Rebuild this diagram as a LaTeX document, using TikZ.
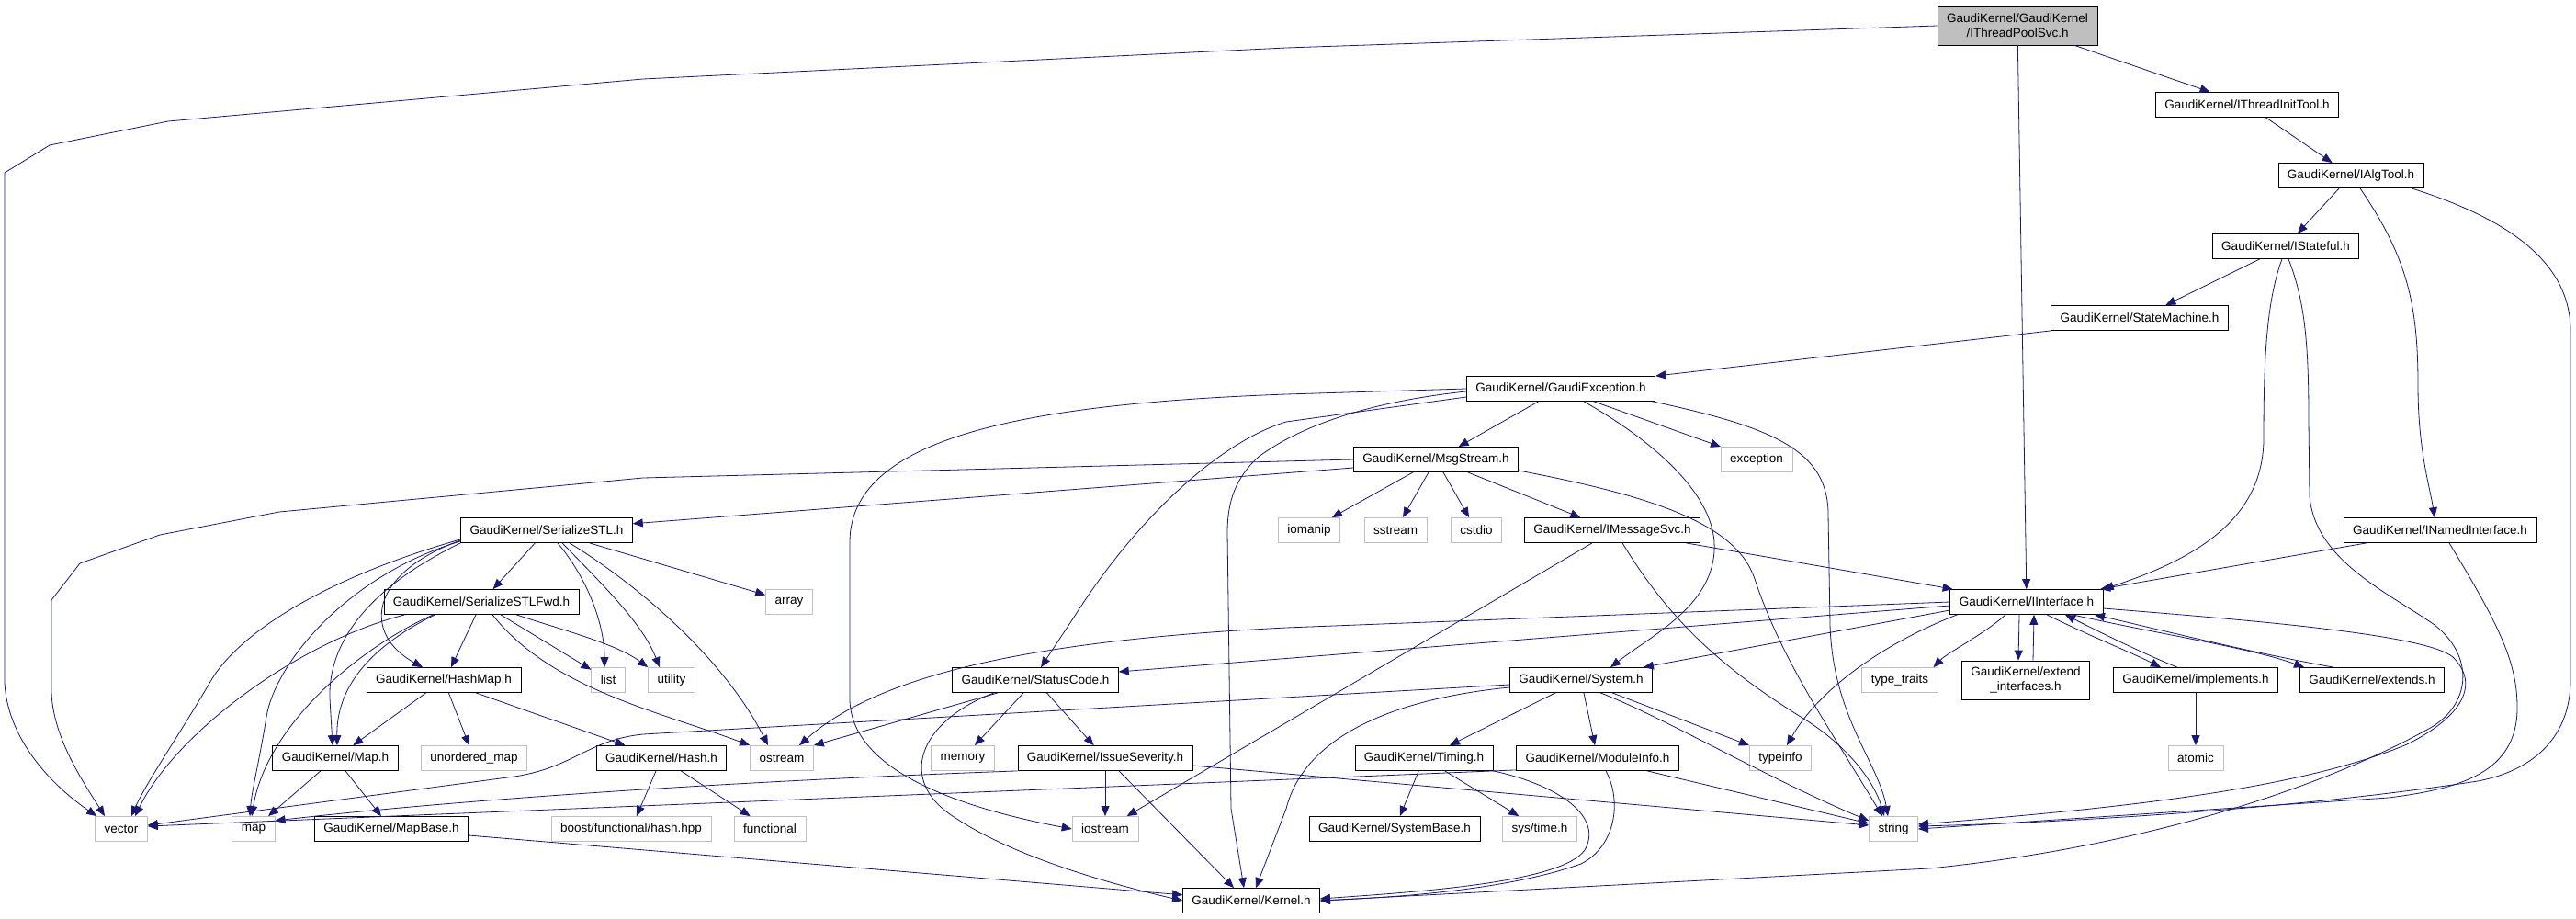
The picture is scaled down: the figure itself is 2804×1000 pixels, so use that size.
\documentclass[tikz,border=0pt]{standalone}
\usepackage{fontspec}
\setmainfont{Liberation Sans}
\usetikzlibrary{arrows.meta,calc}
\definecolor{edgeblue}{HTML}{191970}
\definecolor{boxgray}{HTML}{BFBFBF}
\tikzset{every picture/.style={line width=0.8pt}}
\tikzset{
  hdr/.style={draw=black, fill=white, font=\fontsize{13.5}{16}\selectfont, inner xsep=10pt, inner ysep=0pt, minimum height=27pt},
  syshdr/.style={hdr, draw=boxgray},
  curhdr/.style={hdr, fill=boxgray, align=center, minimum height=42pt},
  incl/.style={draw=edgeblue, line width=0.8pt, -{Triangle[length=11pt,width=9pt]}},
}
\begin{document}
\begin{tikzpicture}[x=1pt,y=1pt,yscale=-1,xscale=1]
\useasboundingbox (0,0) rectangle (2804,1000);
\fill[white] (0,0) rectangle (2804,1000);

% Text Node
\node[curhdr] (tps) at (2196,28) {GaudiKernel/GaudiKernel\\/IThreadPoolSvc.h};
\node[hdr] (tit) at (2446,114) {GaudiKernel/IThreadInitTool.h};
\node[hdr] (iat) at (2559,191) {GaudiKernel/IAlgTool.h};
\node[hdr] (ist) at (2488,268) {GaudiKernel/IStateful.h};
\node[hdr] (stm) at (2329,346) {GaudiKernel/StateMachine.h};
\node[hdr] (gex) at (1699,423) {GaudiKernel/GaudiException.h};
\node[hdr] (msg) at (1563,500) {GaudiKernel/MsgStream.h};
\node[syshdr] (exc) at (1912,500) {exception};
\node[syshdr] (ioma) at (1425,577) {iomanip};
\node[syshdr] (sst) at (1519,577) {sstream};
\node[syshdr] (cst) at (1607,577) {cstdio};
\node[hdr] (ims) at (1755,577) {GaudiKernel/IMessageSvc.h};
\node[hdr] (inm) at (2656,577) {GaudiKernel/INamedInterface.h};
\node[hdr] (ser) at (595,577) {GaudiKernel/SerializeSTL.h};
\node[syshdr] (arr) at (859,655) {array};
\node[hdr] (sfw) at (524,655) {GaudiKernel/SerializeSTLFwd.h};
\node[hdr] (iif) at (2206,655) {GaudiKernel/IInterface.h};
\node[hdr] (hmp) at (483,740) {GaudiKernel/HashMap.h};
\node[syshdr] (lst) at (662,740) {list};
\node[syshdr] (utl) at (731,740) {utility};
\node[hdr] (stc) at (1127,740) {GaudiKernel/StatusCode.h};
\node[hdr] (sys) at (1721,740) {GaudiKernel/System.h};
\node[syshdr] (ttr) at (2068,740) {type\_traits};
\node[hdr, align=center, minimum height=42pt] (exi) at (2205,740) {GaudiKernel/extend\\\_interfaces.h};
\node[hdr] (imp) at (2390,740) {GaudiKernel/implements.h};
\node[hdr] (ext) at (2582,740) {GaudiKernel/extends.h};
\node[hdr] (gmap) at (365,825) {GaudiKernel/Map.h};
\node[syshdr] (uom) at (516,825) {unordered\_map};
\node[hdr] (hsh) at (720,825) {GaudiKernel/Hash.h};
\node[syshdr] (ost) at (851,825) {ostream};
\node[syshdr] (mem) at (1048,825) {memory};
\node[hdr] (isv) at (1203,825) {GaudiKernel/IssueSeverity.h};
\node[hdr] (tim) at (1550,825) {GaudiKernel/Timing.h};
\node[hdr] (mod) at (1739,825) {GaudiKernel/ModuleInfo.h};
\node[syshdr] (tyi) at (1938,825) {typeinfo};
\node[syshdr] (atm) at (2390,825) {atomic};
\node[syshdr] (vec) at (132,902) {vector};
\node[syshdr] (smap) at (276,902) {map};
\node[hdr] (mpb) at (426,902) {GaudiKernel/MapBase.h};
\node[syshdr] (bst) at (687,902) {boost/functional/hash.hpp};
\node[syshdr] (fun) at (838,902) {functional};
\node[syshdr] (ios) at (1203,902) {iostream};
\node[hdr] (sbs) at (1518,902) {GaudiKernel/SystemBase.h};
\node[syshdr] (stim) at (1676,902) {sys/time.h};
\node[syshdr] (str) at (2061,902) {string};
\node[hdr] (krn) at (1362,980) {GaudiKernel/Kernel.h};

%Straight Lines
\draw[incl] (tps.west) -- (1400,52) -- (700,86) -- (183,132) -- (54,158) -- (5,188) -- (5,743) .. controls (8,800) and (50,850) .. ($(vec.north west)+(2,0)$);
\draw[incl] (tps) -- (tit);
\draw[incl] (tps) -- (iif);
\draw[incl] (tit) -- (iat);
\draw[incl] (iat) -- (ist);
%Curve Lines
\draw[incl] ($(iat.south)+(10,0)$) .. controls (2620,280) and (2632,330) .. (2632,420) .. controls (2632,490) and (2645,530) .. ($(inm.north)+(-6,0)$);
\draw[incl] ($(iat.south)+(66,0)$) .. controls (2720,235) and (2798,280) .. (2798,360) -- (2798,740) .. controls (2798,800) and (2760,838) .. (2697,850) .. controls (2500,880) and (2250,895) .. ($(str.east)+(0,-3)$);
\draw[incl] (ist) -- (stm);
\draw[incl] ($(ist.south)+(-4,0)$) .. controls (2466,330) and (2464,400) .. (2464,480) .. controls (2462,560) and (2400,605) .. (iif.north east);
\draw[incl] ($(ist.south)+(3,0)$) .. controls (2510,330) and (2513,380) .. (2513,460) -- (2514,540) .. controls (2520,610) and (2600,645) .. (2650,680) .. controls (2695,715) and (2690,770) .. (2640,795) .. controls (2540,850) and (2350,920) .. (2100,945) -- (krn.east);
\draw[incl] (stm.south west) -- (gex.north east);

% GaudiException
\draw[incl] (gex) -- (msg);
\draw[incl] ($(gex.south)+(36,0)$) -- (exc);
\draw[incl] ($(gex.south)+(25,0)$) .. controls (1800,480) and (1870,540) .. (1866,600) .. controls (1862,660) and (1800,690) .. ($(sys.north)+(32,0)$);
\draw[incl] ($(gex.south)+(100,0)$) .. controls (1930,465) and (1990,490) .. (1990,560) -- (1992,680) .. controls (1995,780) and (2045,830) .. ($(str.north)+(-6,0)$);
\draw[incl] ($(gex.west)+(0,9)$) -- (1400,459) .. controls (1330,480) and (1240,560) .. (1170,670) -- ($(stc.north)+(6,0)$);
\draw[incl] ($(gex.west)+(0,3)$) .. controls (1500,436) and (1420,460) .. (1370,497) .. controls (1345,520) and (1336,545) .. (1336,580) -- (1340,880) -- ($(krn.north)+(-8,0)$);
\draw[incl] (gex.west) -- (1400,429) .. controls (1100,440) and (925,480) .. (925,590) -- (925,760) .. controls (925,840) and (1050,880) .. (ios.west);

% MsgStream
\draw[incl] (msg) -- (ioma);
\draw[incl] (msg) -- (sst);
\draw[incl] (msg) -- (cst);
\draw[incl] (msg) -- (ims);
\draw[incl] ($(msg.east)+(0,12)$) .. controls (1800,540) and (1890,570) .. (1910,630) .. controls (1940,720) and (1990,790) .. ($(str.north)+(-12,0)$);
\draw[incl] (msg.west) -- (700,520) -- (304,557) -- (174,582) -- (87,613) -- (56,653) -- (56,750) .. controls (56,800) and (90,850) .. ($(vec.north)+(-18,0)$);
\draw[incl] ($(msg.west)+(0,9)$) -- (ser);

% IMessageSvc, INamedInterface
\draw[incl] (ims) -- (iif);
\draw[incl] ($(ims.south)+(-22,0)$) -- (ios);
\draw[incl] ($(ims.south)+(11,0)$) .. controls (1820,680) and (1880,730) .. (1960,780) .. controls (2010,810) and (2040,850) .. ($(str.north)+(-10,0)$);
\draw[incl] (inm) -- (iif);
\draw[incl] ($(inm.south)+(10,0)$) .. controls (2720,680) and (2740,720) .. (2740,770) .. controls (2740,840) and (2680,858) .. (2600,868) -- (str.east);

% IInterface
\draw[incl] ($(iif.east)+(0,7)$) .. controls (2450,675) and (2640,690) .. (2670,715) .. controls (2700,745) and (2680,780) .. (2620,810) .. controls (2500,860) and (2300,880) .. ($(str.east)+(0,-5)$);
\draw[incl] (iif.west) -- (1400,683) .. controls (1100,698) and (950,740) .. ($(ost.north)+(19,0)$);
\draw[incl] ($(iif.west)+(0,4)$) -- ($(stc.east)+(0,-9)$);
\draw[incl] ($(iif.west)+(0,9)$) -- ($(sys.north east)+(-10,0)$);
\draw[incl] ($(iif.south west)+(8,0)$) .. controls (2050,700) and (1980,750) .. ($(tyi.north)+(7,0)$);
\draw[incl] ($(iif.south)+(-23,0)$) .. controls (2160,690) and (2120,710) .. ($(ttr.north east)+(-5,0)$);
\draw[incl] ($(iif.south)+(-8,0)$) -- ($(exi.north)+(-8,0)$);
\draw[incl] ($(exi.north)+(8,0)$) -- ($(iif.south)+(8,0)$);
\draw[incl] ($(iif.south)+(22,0)$) .. controls (2270,690) and (2320,710) .. ($(imp.north)+(-38,0)$);
\draw[incl] ($(imp.north)+(-20,0)$) .. controls (2330,710) and (2280,685) .. ($(iif.south)+(42,0)$);
\draw[incl] ($(iif.south)+(50,0)$) .. controls (2350,690) and (2450,705) .. ($(ext.north)+(-74,0)$);
\draw[incl] ($(ext.north)+(-42,0)$) .. controls (2450,710) and (2350,685) .. ($(iif.south)+(74,0)$);
\draw[incl] (imp) -- (atm);

% SerializeSTL
\draw[incl] ($(ser.south west)+(0,-4)$) .. controls (350,630) and (260,690) .. (230,740) .. controls (195,800) and (160,850) .. ($(vec.north)+(11,0)$);
\draw[incl] ($(ser.south west)+(0,-2)$) .. controls (380,625) and (300,720) .. (290,780) .. controls (282,830) and (274,860) .. ($(smap.north)+(-4,0)$);
\draw[incl] (ser.south west) .. controls (400,640) and (357,700) .. (359,760) -- ($(gmap.north)+(-3,0)$);
\draw[incl] ($(ser.south west)+(0,-3)$) .. controls (400,625) and (395,690) .. ($(hmp.north)+(-23,0)$);
\draw[incl] (ser) -- (sfw);
\draw[incl] ($(ser.south)+(12,0)$) .. controls (640,630) and (658,680) .. ($(lst.north)+(-4,0)$);
\draw[incl] ($(ser.south)+(17,0)$) .. controls (660,640) and (700,680) .. ($(utl.north)+(-13,0)$);
\draw[incl] ($(ser.south)+(25,0)$) .. controls (700,640) and (790,720) .. ($(ost.north)+(-15,0)$);
\draw[incl] ($(ser.south east)+(-47,0)$) -- (arr);

% SerializeSTLFwd
\draw[incl] ($(sfw.south west)+(23,0)$) .. controls (320,700) and (190,800) .. ($(vec.north)+(15,0)$);
\draw[incl] ($(sfw.south west)+(54,0)$) .. controls (390,705) and (290,790) .. ($(smap.north)+(-2,0)$);
\draw[incl] ($(sfw.south west)+(56,0)$) .. controls (400,705) and (366,750) .. ($(gmap.north)+(2,0)$);
\draw[incl] ($(sfw.south)+(-6,0)$) -- ($(hmp.north)+(8,0)$);
\draw[incl] ($(sfw.south)+(12,0)$) .. controls (600,750) and (720,775) .. (ost.north west);
\draw[incl] ($(sfw.south)+(21,0)$) -- (lst);
\draw[incl] ($(sfw.south)+(38,0)$) .. controls (610,685) and (670,700) .. (utl.north west);

% HashMap, Map, Hash, MapBase
\draw[incl] (hmp) -- (gmap);
\draw[incl] (hmp) -- (uom);
\draw[incl] ($(hmp.south)+(35,0)$) -- (hsh);
\draw[incl] (gmap) -- (smap);
\draw[incl] (gmap) -- (mpb);
\draw[incl] (hsh) -- (bst);
\draw[incl] (hsh) -- (fun);
\draw[incl] (mpb) -- (krn);

% StatusCode, IssueSeverity
\draw[incl] ($(stc.south)+(-41,0)$) -- (ost.north east);
\draw[incl] ($(stc.south)+(-45,0)$) .. controls (1000,785) and (975,850) .. (1040,890) .. controls (1100,930) and (1200,960) .. (krn.west);
\draw[incl] (stc) -- (mem);
\draw[incl] (stc) -- (isv);
\draw[incl] (isv) -- (ios);
\draw[incl] ($(isv.south)+(15,0)$) -- ($(krn.north)+(-19,0)$);
\draw[incl] ($(isv.east)+(0,8)$) -- ($(str.west)+(0,-4)$);
\draw[incl] (isv.south west) .. controls (800,850) and (500,870) .. ($(smap.east)+(0,-9)$);

% System, Timing, ModuleInfo
\draw[incl] (sys) -- (tim);
\draw[incl] (sys) -- (mod);
\draw[incl] ($(sys.south)+(21,0)$) .. controls (1810,780) and (1930,850) .. ($(str.west)+(0,-9)$);
\draw[incl] ($(sys.south)+(34,0)$) -- (tyi.north west);
\draw[incl] ($(sys.west)+(0,5)$) -- (700,799) .. controls (640,805) and (625,835) .. (560,845) -- ($(vec.east)+(0,-4)$);
\draw[incl] ($(sys.west)+(0,8)$) .. controls (1520,760) and (1420,800) .. (1400,880) -- ($(krn.north)+(5,0)$);
\draw[incl] (tim) -- (sbs);
\draw[incl] (tim) -- (stim);
\draw[incl] (tim.south east) .. controls (1700,855) and (1745,890) .. (1725,925) .. controls (1700,960) and (1550,970) .. ($(krn.east)+(0,-2)$);
\draw[incl] ($(mod.south)+(9,0)$) .. controls (1765,870) and (1760,920) .. (1721,940) .. controls (1650,965) and (1550,975) .. (krn.east);
\draw[incl] ($(mod.south)+(54,0)$) -- ($(str.west)+(0,-6)$);
\draw[incl] ($(mod.south west)+(0,-1)$) -- ($(vec.east)+(0,-3)$);

\end{tikzpicture}
\end{document}
